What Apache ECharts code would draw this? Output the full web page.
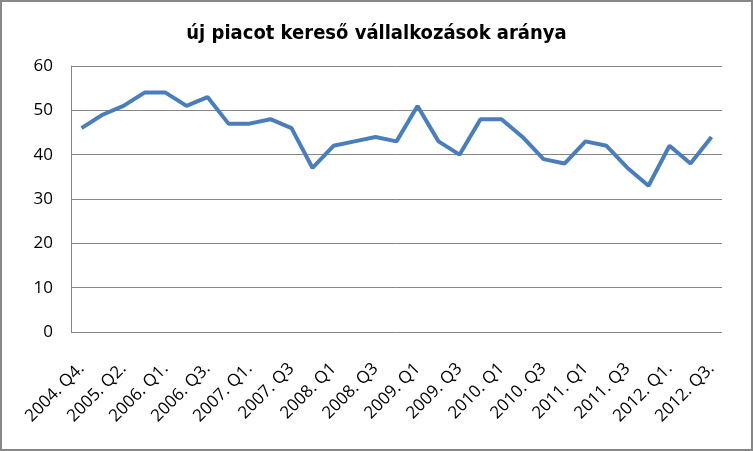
<!DOCTYPE html>
<html><head><meta charset="utf-8">
<script src="https://cdn.jsdelivr.net/npm/echarts@6/dist/echarts.min.js"></script>
<style>html,body{margin:0;padding:0;background:#fff}#c{width:753px;height:451px;box-sizing:border-box;border:2px solid #878787}</style>
</head><body><div id="c"></div>
<script>
const title = 'új piacot kereső vállalkozások aránya';
const categories = ['2004. Q4.','2005. Q1.','2005. Q2.','2005. Q4.','2006. Q1.','2006. Q2.','2006. Q3.','2006. Q4.','2007. Q1.','2007. Q2','2007. Q3','2007. Q4','2008. Q1','2008. Q2','2008. Q3','2008. Q4','2009. Q1','2009. Q2','2009. Q3','2009. Q4','2010. Q1','2010. Q2','2010. Q3','2010. Q4','2011. Q1','2011. Q2','2011. Q3','2011. Q4','2012. Q1.','2012. Q2.','2012. Q3.'];
const values = [46,49,51,54,54,51,53,47,47,48,46,37,42,43,44,43,51,43,40,48,48,44,39,38,43,42,37,33,42,38,44];
const yTicks = {min:0, max:60, interval:10};
const chart = echarts.init(document.getElementById('c'));
chart.setOption({
  animation:false,
  title:{text:title,left:'center',top:17,textStyle:{fontFamily:'DejaVu Sans Condensed',fontWeight:'bold',fontSize:20,color:'#000'}},
  grid:{left:69,right:29,top:64,bottom:117},
  xAxis:{type:'category',data:categories,boundaryGap:true,
    axisLine:{show:false},axisTick:{show:false},
    axisLabel:{interval:1,rotate:45,fontFamily:'Open Sans',fontSize:17,color:'#000',margin:34}},
  yAxis:{type:'value',min:yTicks.min,max:yTicks.max,interval:yTicks.interval,
    axisLine:{show:true,lineStyle:{color:'#868686',width:1}},axisTick:{show:false},
    splitLine:{lineStyle:{color:'#868686',width:1}},
    axisLabel:{fontFamily:'Open Sans',fontSize:17,color:'#000',margin:18}},
  series:[{type:'line',data:values,symbol:'none',lineStyle:{color:'#4a7ebb',width:4}}]
});
</script></body></html>
